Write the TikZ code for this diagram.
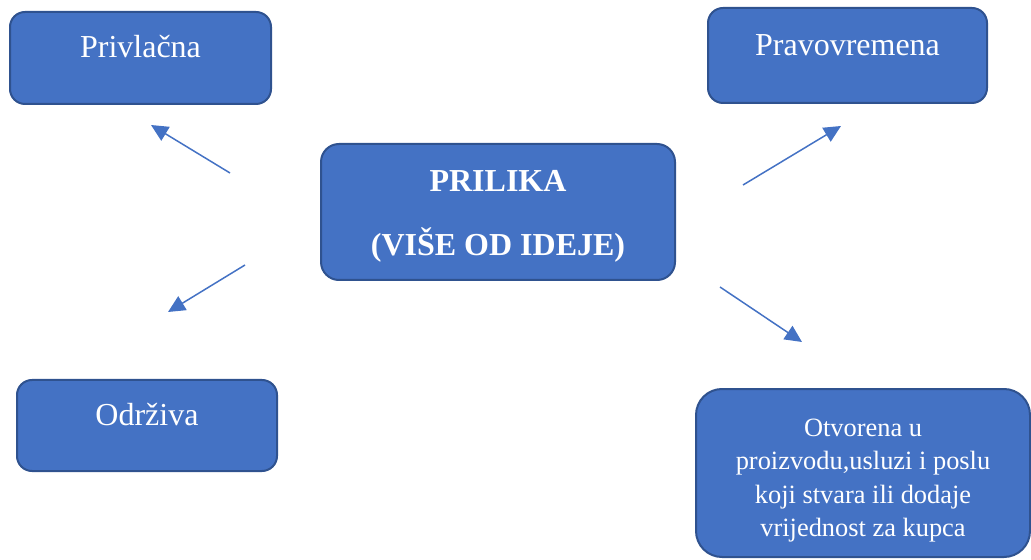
\documentclass[tikz,border=0pt]{standalone}
\usepackage{fontspec}
\setmainfont{Liberation Serif}
\usepackage{tikz}
\definecolor{boxblue}{RGB}{68, 114, 196}
\definecolor{boxedge}{RGB}{47, 82, 143}
\usetikzlibrary{shapes,arrows.meta,positioning,calc}

\begin{document}
\begin{tikzpicture}[
    x=0.5pt, y=-0.5pt,
    block/.style={rectangle, draw=boxedge, line width=1pt, fill=boxblue, text=white, align=center, rounded corners=7.5pt, font=\fontsize{16}{19}\selectfont},
    toptext/.style={text height=11pt, text depth=11pt},
    arrow/.style={-{Triangle[length=8.5pt, width=8pt]}, draw=boxblue, line width=0.75pt}
]
    \useasboundingbox (0,0) rectangle (1031,560);

    % Centre
    \node[block, minimum width=177pt, minimum height=68pt, rounded corners=9pt, text height=47.5pt, text depth=4pt, font=\fontsize{16}{32}\selectfont\bfseries] (prilika) at (498,212) {PRILIKA\\(VIŠE OD IDEJE)};

    % Corner boxes
    \node[block, toptext, minimum width=130.5pt, minimum height=46pt] (privlacna) at (140.5,58) {Privlačna};
    \node[block, toptext, minimum width=139.5pt, minimum height=47.5pt] (pravovremena) at (847.5,55.5) {Pravovremena};
    \node[block, toptext, minimum width=130pt, minimum height=45.5pt] (odrziva) at (147,425.5) {Održiva};
    \node[block, minimum width=167pt, minimum height=84pt, rounded corners=13pt, text height=66.5pt, text depth=3pt, font=\fontsize{13.2}{16.7}\selectfont] (otvorena) at (863,473) {Otvorena u\\proizvodu,usluzi i poslu\\koji stvara ili dodaje\\vrijednost za kupca};

    % Arrow ends
    \coordinate (privlacnaS) at (230,173);
    \coordinate (privlacnaE) at (151,125);
    \coordinate (odrzivaS) at (245,265);
    \coordinate (odrzivaE) at (168,312);
    \coordinate (pravovremenaS) at (743,185);
    \coordinate (pravovremenaE) at (841,126);
    \coordinate (otvorenaS) at (720,287);
    \coordinate (otvorenaE) at (802,342);

    % Arrows
    \draw[arrow] (privlacnaS) -- (privlacnaE);
    \draw[arrow] (odrzivaS) -- (odrzivaE);
    \draw[arrow] (pravovremenaS) -- (pravovremenaE);
    \draw[arrow] (otvorenaS) -- (otvorenaE);
\end{tikzpicture}
\end{document}
